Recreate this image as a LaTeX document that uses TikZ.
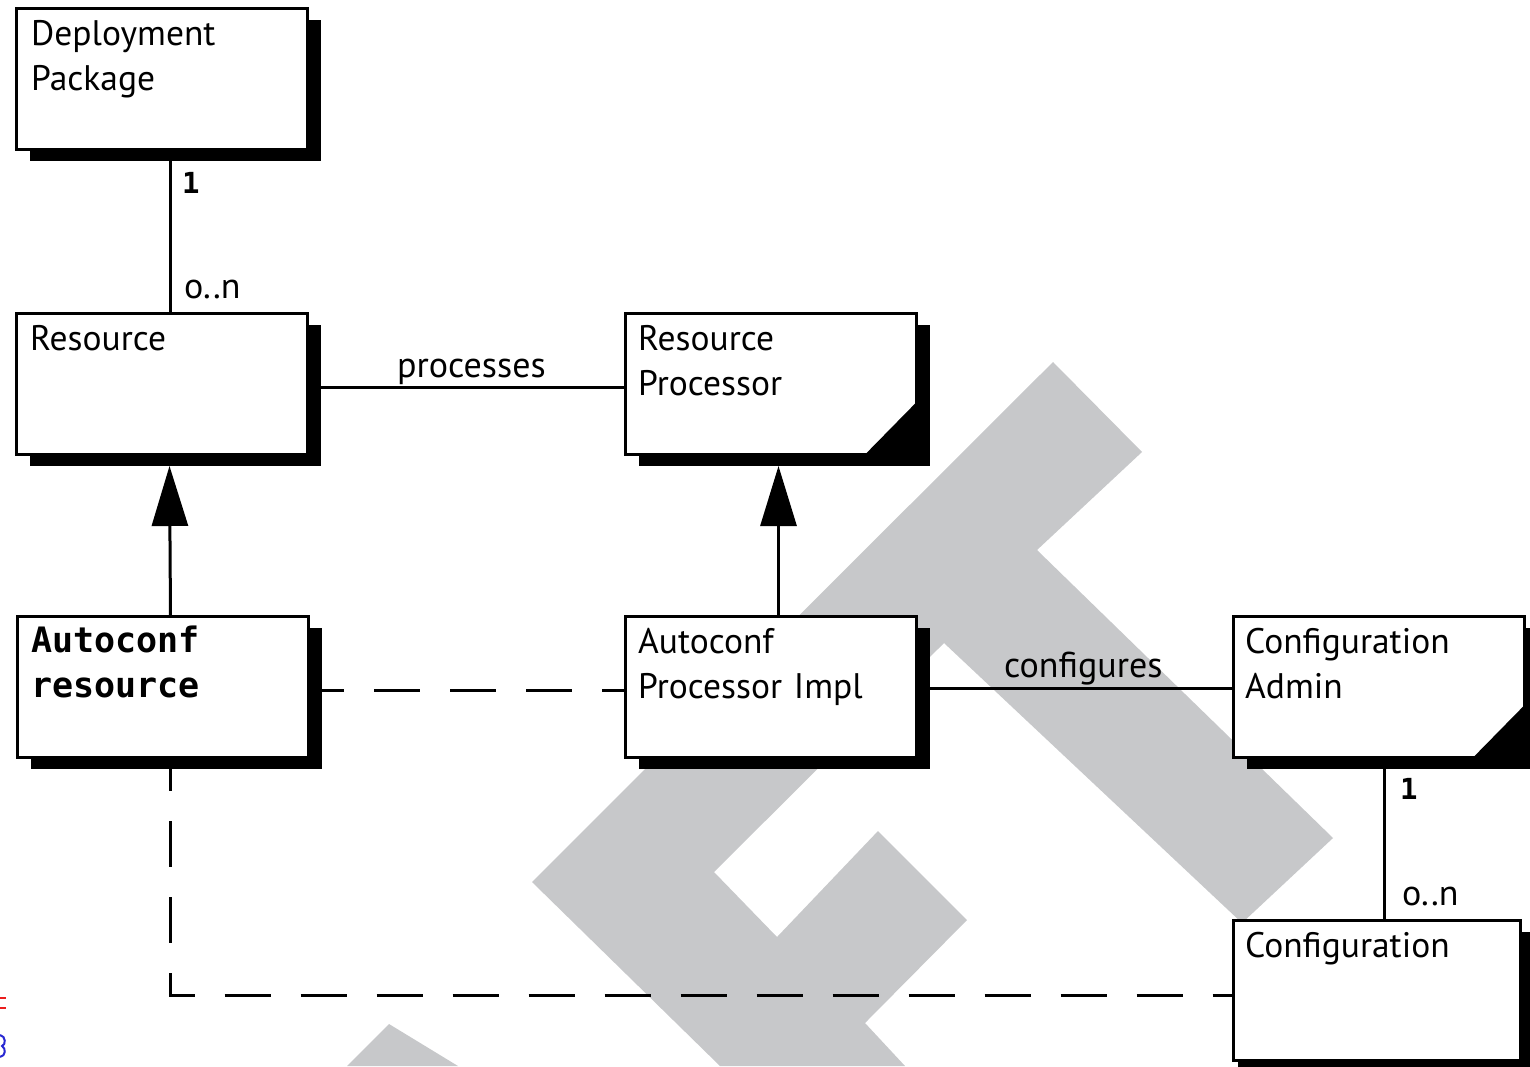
\documentclass[tikz,border=0pt]{standalone}
\usepackage{fontspec}
\usetikzlibrary{shadows,arrows.meta}
\newfontfamily\boxfont{PT Sans}
\newfontfamily\labfont{DejaVu Sans Mono}
\definecolor{wm}{RGB}{199,200,202}
\definecolor{markred}{RGB}{235,30,30}
\definecolor{markblue}{RGB}{40,40,210}

\tikzset{
  umlbox/.style={draw=black, line width=3pt, fill=white, rectangle,
    minimum width=291pt, minimum height=141pt, anchor=north west,
    inner sep=0pt, outer sep=0pt,
    drop shadow={shadow xshift=14pt, shadow yshift=-12pt, fill=black, opacity=1}},
  boxtext/.style={anchor=base west, inner sep=0pt, text width=275pt, align=left,
    font=\boxfont\fontsize{35.5}{45}\selectfont},
  boldtext/.style={boxtext, font=\labfont\bfseries\fontsize{35}{45}\selectfont},
  mult/.style={anchor=base west, inner sep=0pt, font=\labfont\bfseries\fontsize{29}{29}\selectfont},
  rolename/.style={anchor=base west, inner sep=0pt, font=\boxfont\fontsize{36}{36}\selectfont},
  rel/.style={line width=3pt},
  dashrel/.style={line width=3pt, dash pattern=on 46pt off 30pt, dash phase=24pt},
  isa/.style={line width=3pt, -{Triangle[length=60pt, width=36pt]}},
  wmark/.style={fill=wm}
}

\begin{document}
\begin{tikzpicture}[x=1pt, y=-1pt]
\useasboundingbox (0,0) rectangle (1530,1066);
\clip (0,0) rectangle (1530,1066);
\fill[white] (0,0) rectangle (1530,1066);

% watermark letters
\fill[wmark] (347,1066) -- (389,1024) -- (458,1066) -- cycle;
\fill[wmark] (720,1066) -- (532,882) -- (1053,362) -- (1142,452) -- (1037,550)
  -- (1333,838) -- (1242,923) -- (944,643) -- (714,872) -- (777,937)
  -- (878,831) -- (967,920) -- (865,1023) -- (905,1066) -- cycle;

% margin marks
\draw[markred, line width=2pt] (0,998) -- (6,998);
\draw[markred, line width=2pt] (0,1008) -- (6,1008);
\draw[markblue, line width=2pt] (0,1035) .. controls (6,1036) and (6,1045) .. (2,1046)
  .. controls (6,1048) and (6,1056) .. (0,1057);

% classes
\node[umlbox] (dp)  at (16,8)    {};
\node[umlbox] (res) at (16,313)  {};
\node[umlbox] (rp)  at (625,313) {};
\node[umlbox] (ar)  at (17,616)  {};
\node[umlbox] (api) at (625,616) {};
\node[umlbox] (ca)  at (1233,616) {};
\node[umlbox, minimum width=287pt, minimum height=140pt,
  drop shadow={shadow xshift=5pt, shadow yshift=-12pt, fill=black, opacity=1}] (cfg) at (1233,920) {};

% folded corners of the interface boxes
\fill ([shift={(1.6pt,53pt)}]rp.south east) -- ([shift={(1.6pt,-1.6pt)}]rp.south east)
  -- ([shift={(-52pt,-1.6pt)}]rp.south east) -- cycle;
\fill ([shift={(1.6pt,53pt)}]ca.south east) -- ([shift={(1.6pt,-1.6pt)}]ca.south east)
  -- ([shift={(-52pt,-1.6pt)}]ca.south east) -- cycle;

% class names
\node[boxtext]  (dpname)  at (31,45)    {Deployment\\Package};
\node[boxtext]  (resname) at (30,350)   {Resource};
\node[boxtext]  (rpname)  at (638,350)  {Resource\\Processor};
\node[boldtext] (arname)  at (31,652)   {Autoconf\\resource};
\node[boxtext]  (apiname) at (638,653)  {Autoconf\\Processor Impl};
\node[boxtext]  (caname)  at (1245,653) {Configuration\\Admin};
\node[boxtext]  (cfgname) at (1245,957) {Configuration};

% associations
\draw[rel] ([shift={(8.5pt,-12pt)}]dp.south) -- ([xshift=8.5pt]res.north);
\draw[rel] ([shift={(14pt,-4pt)}]res.east) -- ([yshift=-4pt]rp.west);
\draw[rel] ([shift={(14pt,-2pt)}]api.east) -- ([yshift=-2pt]ca.west);
\coordinate (caLink) at ([shift={(5.5pt,-12pt)}]ca.south);
\draw[rel] (caLink) -- (caLink |- cfg.north);

% generalizations
\draw[isa] ([xshift=8pt]ar.north) -- ([shift={(8pt,-12pt)}]res.south);
\draw[isa] ([xshift=8pt]api.north) -- ([shift={(8pt,-12pt)}]rp.south);

% dependencies
\draw[dashrel] ([shift={(14pt,-4pt)}]ar.east) -- ([yshift=-4pt]api.west);
\coordinate (arLink) at ([shift={(8pt,-12pt)}]ar.south);
\draw[dashrel] (arLink) |- ([yshift=-5pt]cfg.west);

% multiplicities and role names
\node[mult] (m1) at (182,193) {1};
\node[rolename] (m2) at (184,298) {o..n};
\node[mult] (m3) at (1400,799) {1};
\node[rolename] (m4) at (1402,905) {o..n};
\node[rolename] (lproc) at (397,377) {processes};
\node[rolename] (lconf) at (1004,677) {configures};
\end{tikzpicture}
\end{document}
